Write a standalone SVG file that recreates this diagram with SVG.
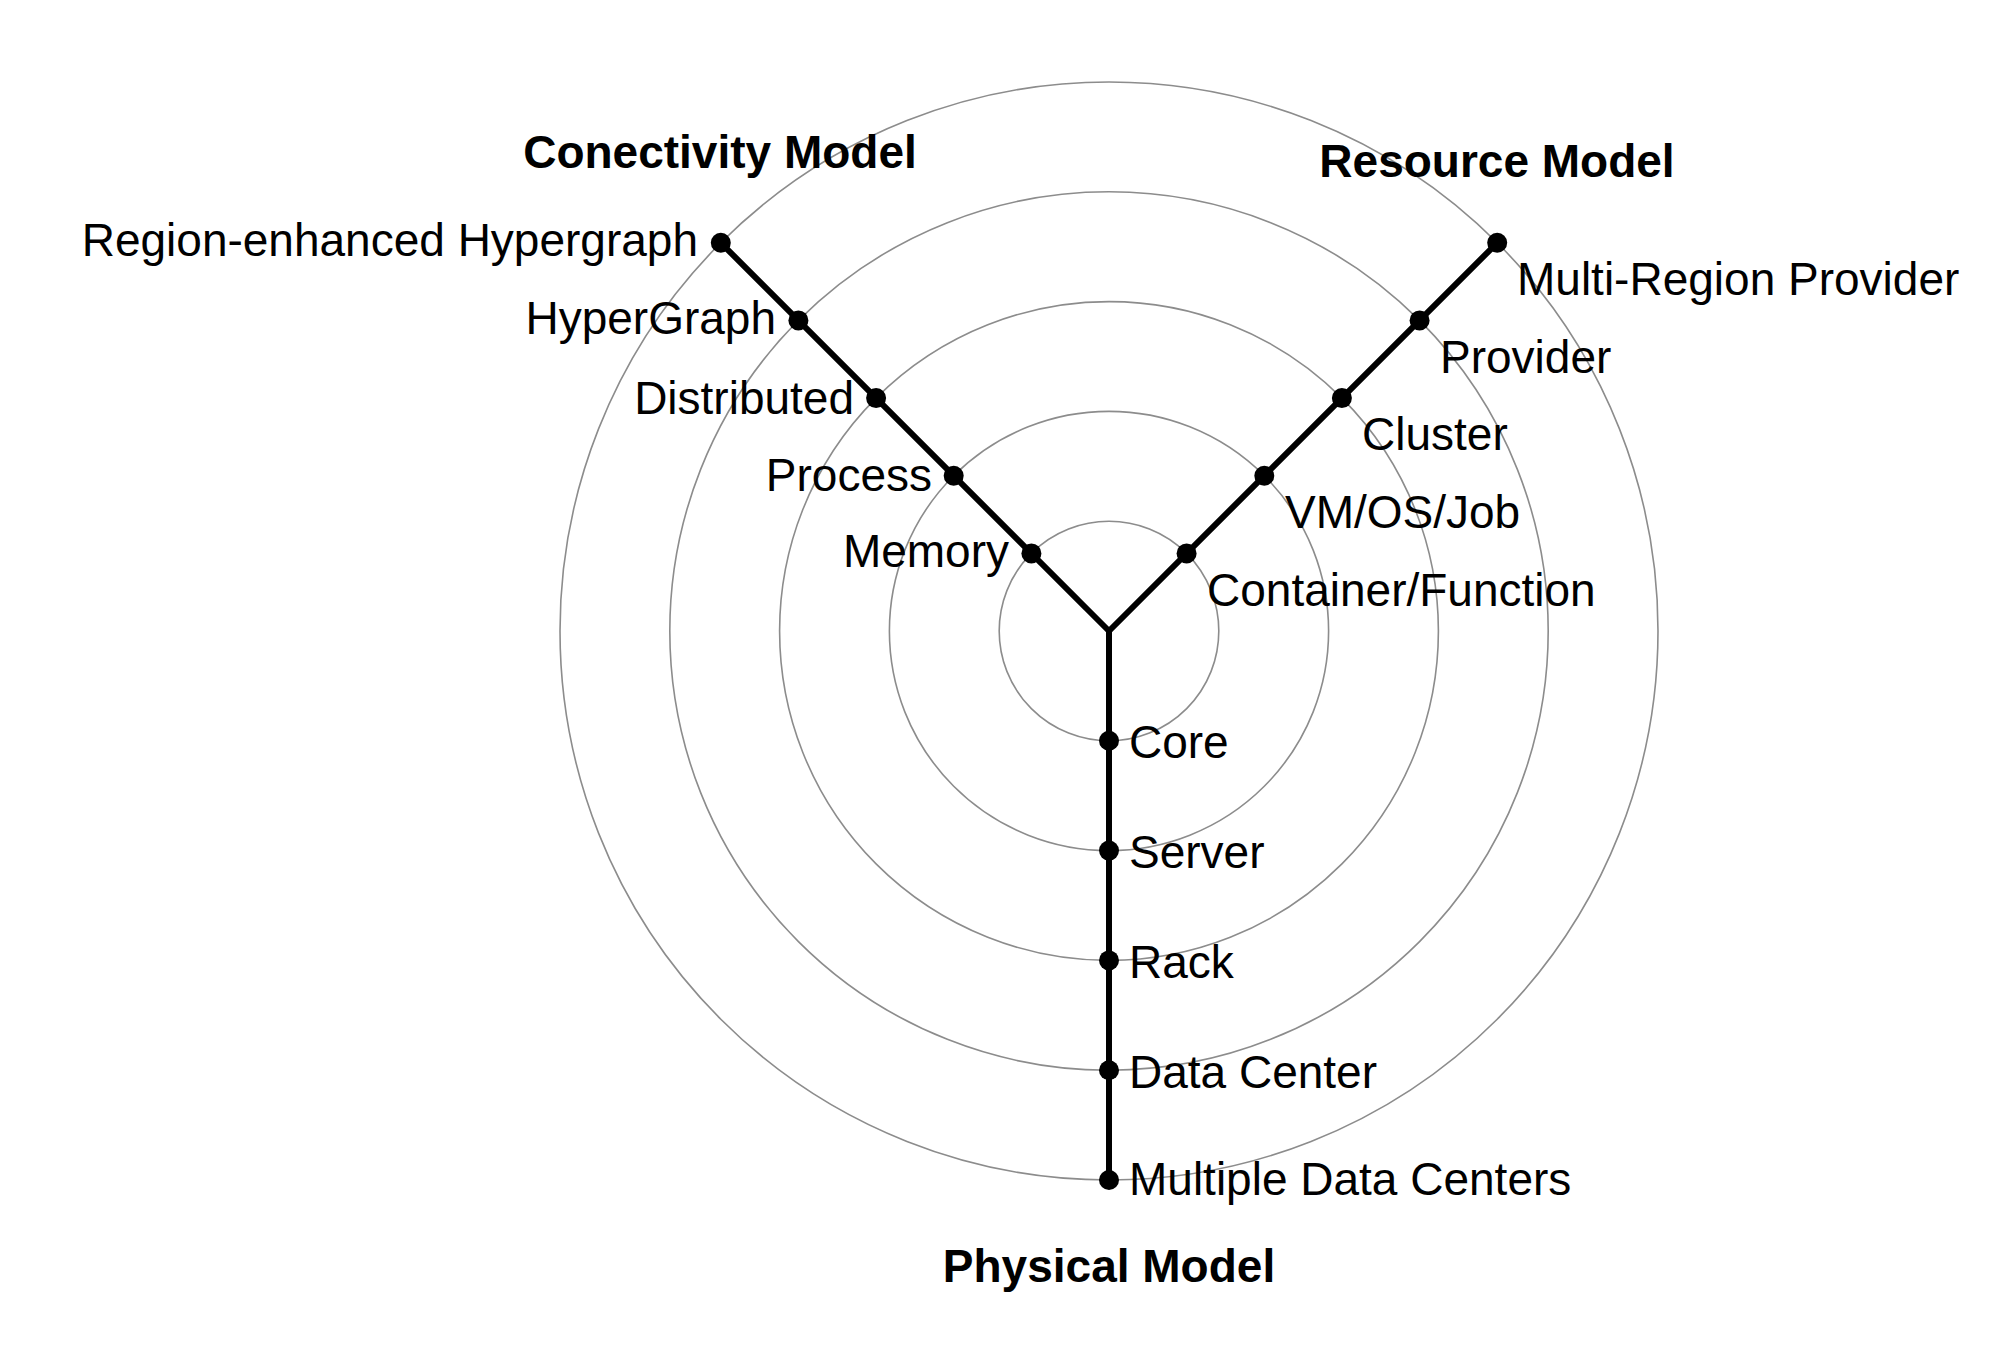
<svg xmlns="http://www.w3.org/2000/svg" width="2004" height="1356" viewBox="0 0 2004 1356">
<style>
.ring{fill:none;stroke:#8c8c8c;stroke-width:1.6}
.axis{stroke:#000;stroke-width:6;fill:none;stroke-linecap:round}
.dot{fill:#000}
text{font-family:"Liberation Sans",Arial,sans-serif;font-size:46px;fill:#000}
.title{font-weight:bold;text-anchor:middle}
.l{text-anchor:end}
</style>
<rect width="2004" height="1356" fill="#fff"/>
<g id="rings">
<circle class="ring" cx="1109" cy="631" r="109.8"/>
<circle class="ring" cx="1109" cy="631" r="219.6"/>
<circle class="ring" cx="1109" cy="631" r="329.4"/>
<circle class="ring" cx="1109" cy="631" r="439.2"/>
<circle class="ring" cx="1109" cy="631" r="549"/>
</g>
<g id="connectors">
<line class="axis" x1="1109" y1="631" x2="720.8" y2="242.8"/>
<line class="axis" x1="1109" y1="631" x2="1497.2" y2="242.8"/>
<line class="axis" x1="1109" y1="631" x2="1109" y2="1180"/>
</g>
<g id="connectivity-model">
<text class="title" x="720" y="168">Conectivity Model</text>
<g id="memory"><circle class="dot" cx="1031.4" cy="553.4" r="10"/><text class="l" x="1009" y="567">Memory</text></g>
<g id="process"><circle class="dot" cx="953.7" cy="475.7" r="10"/><text class="l" x="932" y="491">Process</text></g>
<g id="distributed"><circle class="dot" cx="876.1" cy="398.1" r="10"/><text class="l" x="854" y="414">Distributed</text></g>
<g id="hypergraph"><circle class="dot" cx="798.4" cy="320.4" r="10"/><text class="l" x="776" y="334">HyperGraph</text></g>
<g id="region-hypergraph"><circle class="dot" cx="720.8" cy="242.8" r="10"/><text class="l" x="698" y="256">Region-enhanced Hypergraph</text></g>
</g>
<g id="resource-model">
<text class="title" x="1497" y="177">Resource Model</text>
<g id="container"><circle class="dot" cx="1186.6" cy="553.4" r="10"/><text x="1207" y="606">Container/Function</text></g>
<g id="vm"><circle class="dot" cx="1264.3" cy="475.7" r="10"/><text x="1285" y="528">VM/OS/Job</text></g>
<g id="cluster"><circle class="dot" cx="1341.9" cy="398.1" r="10"/><text x="1362" y="450">Cluster</text></g>
<g id="provider"><circle class="dot" cx="1419.6" cy="320.4" r="10"/><text x="1440" y="373">Provider</text></g>
<g id="multi-region"><circle class="dot" cx="1497.2" cy="242.8" r="10"/><text x="1517" y="295">Multi-Region Provider</text></g>
</g>
<g id="physical-model">
<text class="title" x="1109" y="1282">Physical Model</text>
<g id="core"><circle class="dot" cx="1109" cy="740.8" r="10"/><text x="1129" y="758">Core</text></g>
<g id="server"><circle class="dot" cx="1109" cy="850.6" r="10"/><text x="1129" y="868">Server</text></g>
<g id="rack"><circle class="dot" cx="1109" cy="960.4" r="10"/><text x="1129" y="978">Rack</text></g>
<g id="datacenter"><circle class="dot" cx="1109" cy="1070.2" r="10"/><text x="1129" y="1088">Data Center</text></g>
<g id="multi-dc"><circle class="dot" cx="1109" cy="1180" r="10"/><text x="1129" y="1195">Multiple Data Centers</text></g>
</g>
</svg>
